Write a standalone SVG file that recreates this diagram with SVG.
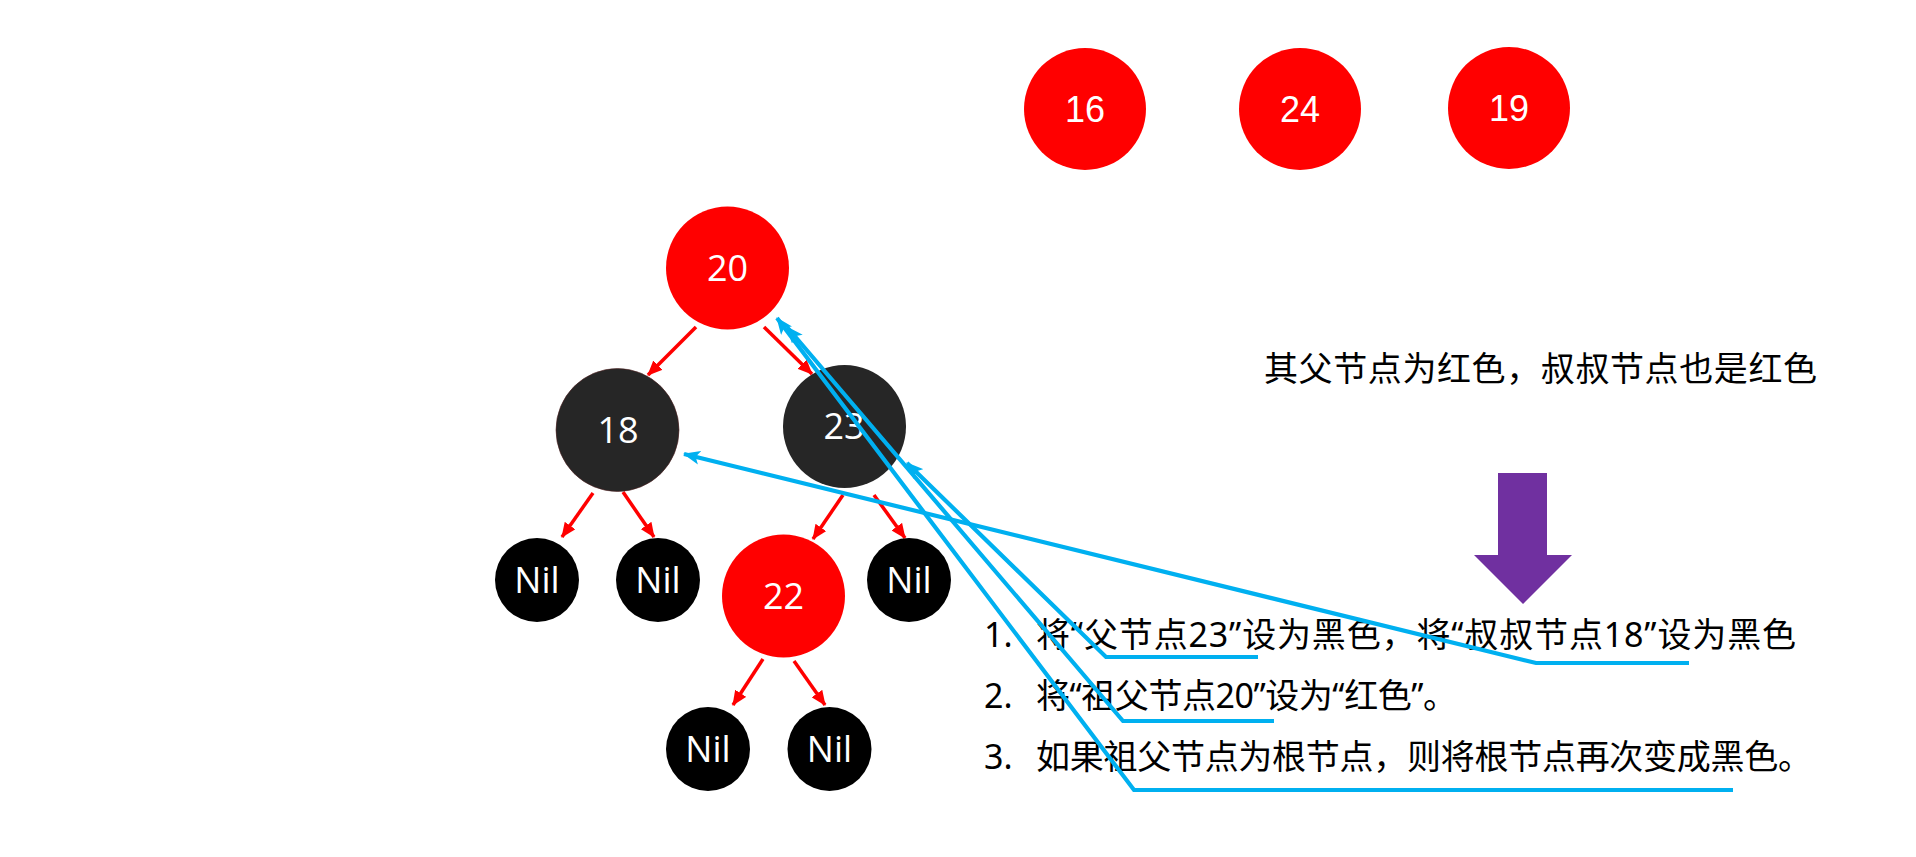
<svg xmlns="http://www.w3.org/2000/svg" width="1916" height="857" viewBox="0 0 1916 857">
<style>
.tn{font-family:"Open Sans","Noto Sans",sans-serif;font-size:36px;fill:#fff;text-anchor:middle}
.top{font-family:"Liberation Sans",Arial,sans-serif;font-size:36px;fill:#fff;text-anchor:middle}
.txt{font-family:"Noto Sans","Noto Sans CJK SC",sans-serif;font-size:34px;fill:#000}
.red{stroke:#FF0000;stroke-width:3.5;fill:none;marker-end:url(#ra)}
.blue{stroke:#00B0F0;stroke-width:4.2;fill:none;marker-end:url(#ba);stroke-linejoin:miter}
</style>
<defs>
<marker id="ra" markerUnits="userSpaceOnUse" markerWidth="15" markerHeight="13" refX="14" refY="6.5" orient="auto">
<path d="M0,0 L15,6.5 L0,13 z" fill="#FF0000"/>
</marker>
<marker id="ba" markerUnits="userSpaceOnUse" markerWidth="17" markerHeight="14" refX="16" refY="7" orient="auto">
<path d="M0,0 L17,7 L0,14 L4,7 z" fill="#00B0F0"/>
</marker>
</defs>
<rect width="1916" height="857" fill="#fff"/>

<g id="top16"><circle cx="1085" cy="109" r="61" fill="#FF0000"/><text class="top" x="1085" y="122">16</text></g>
<g id="top24"><circle cx="1300" cy="109" r="61" fill="#FF0000"/><text class="top" x="1300" y="122">24</text></g>
<g id="top19"><circle cx="1509" cy="108" r="61" fill="#FF0000"/><text class="top" x="1509" y="121">19</text></g>

<g id="edges">
<line class="red" x1="696" y1="327" x2="648" y2="375"/>
<line class="red" x1="764" y1="327" x2="812" y2="374"/>
<line class="red" x1="593" y1="493" x2="562" y2="537"/>
<line class="red" x1="623" y1="492" x2="654" y2="537"/>
<line class="red" x1="843" y1="495" x2="813" y2="539"/>
<line class="red" x1="874" y1="495" x2="905" y2="538"/>
<line class="red" x1="763" y1="659" x2="733" y2="705"/>
<line class="red" x1="794" y1="661" x2="825" y2="705"/>
</g>

<g id="n20"><circle cx="727.5" cy="268" r="61.5" fill="#FF0000"/><text class="tn" x="727.5" y="281">20</text></g>
<g id="n18"><circle cx="617.5" cy="430" r="61.5" fill="#262626" stroke="#4a1c1c" stroke-width="0.6"/><text class="tn" x="618" y="443">18</text></g>
<g id="n23"><circle cx="844.5" cy="426.5" r="61.5" fill="#262626"/><text class="tn" x="844" y="439">23</text></g>
<g id="nil1"><circle cx="537" cy="580" r="42" fill="#000"/><text class="tn" x="537" y="593">Nil</text></g>
<g id="nil2"><circle cx="658" cy="580" r="42" fill="#000"/><text class="tn" x="658" y="593">Nil</text></g>
<g id="n22"><circle cx="783.5" cy="596" r="61.5" fill="#FF0000"/><text class="tn" x="783.5" y="609">22</text></g>
<g id="nil5"><circle cx="909" cy="580" r="42" fill="#000"/><text class="tn" x="909" y="593">Nil</text></g>
<g id="nil3"><circle cx="708" cy="749" r="42" fill="#000"/><text class="tn" x="708" y="762">Nil</text></g>
<g id="nil4"><circle cx="829.5" cy="749" r="42" fill="#000"/><text class="tn" x="829.5" y="762">Nil</text></g>

<g id="caption"><text class="txt" x="1264" y="381" textLength="553">其父节点为红色，叔叔节点也是红色</text></g>

<g id="bigarrow"><path d="M1498,473 L1547,473 L1547,555 L1572,555 L1523,604 L1474,555 L1498,555 z" fill="#7030A0"/></g>

<g id="list">
<text class="txt" x="984" y="647">1.</text>
<text class="txt" x="1036" y="647" textLength="760">将“父节点23”设为黑色，将“叔叔节点18”设为黑色</text>
<text class="txt" x="984" y="708">2.</text>
<text class="txt" x="1036" y="708" textLength="421">将“祖父节点20”设为“红色”。</text>
<text class="txt" x="984" y="769">3.</text>
<text class="txt" x="1036" y="769" textLength="776">如果祖父节点为根节点，则将根节点再次变成黑色。</text>
</g>

<g id="callouts">
<path class="blue" d="M1258,657 L1106,657 L907,463"/>
<path class="blue" d="M1689,663 L1536,663 L684,454"/>
<path class="blue" d="M1274,721 L1123,721 L787,327"/>
<path class="blue" d="M1733,790 L1134,790 L777,318"/>
</g>
</svg>
